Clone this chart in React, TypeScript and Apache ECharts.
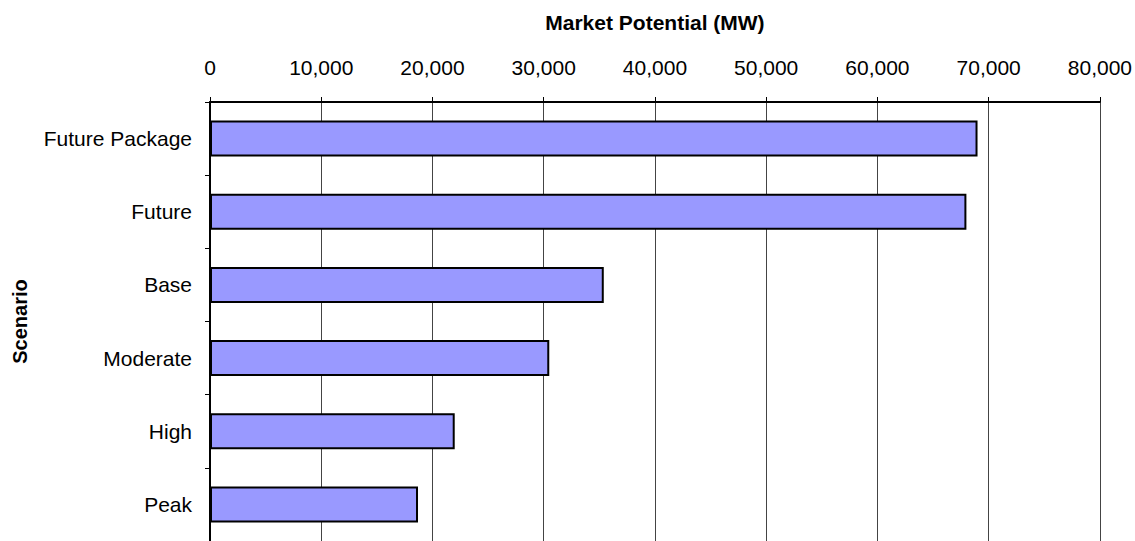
import React, { useEffect, useRef } from "react";
import * as echarts from "echarts";

const categories = ["Future Package", "Future", "Base", "Moderate", "High", "Peak"];
const marketPotential = [69000, 68000, 35400, 30500, 22000, 18700];
const axisMax = 80000;
const axisInterval = 10000;

const FONT = "Arial, 'Liberation Sans', sans-serif";

export default function App() {
  const ref = useRef<HTMLDivElement>(null);
  useEffect(() => {
    if (!ref.current) return;
    const chart = echarts.init(ref.current, undefined, { renderer: "svg" });
    chart.setOption({
      animation: false,
      backgroundColor: "#ffffff",
      grid: { left: 210, right: 35, top: 102, bottom: -4, containLabel: false },
      xAxis: {
        type: "value",
        position: "top",
        min: 0,
        max: axisMax,
        interval: axisInterval,
        name: "Market Potential (MW)",
        nameLocation: "middle",
        nameGap: 69,
        nameTextStyle: { fontFamily: FONT, fontSize: 21, fontWeight: "bold", color: "#000" },
        axisLine: { show: true, lineStyle: { color: "#000", width: 2 } },
        axisTick: { show: true, inside: false, length: 5, lineStyle: { color: "#000", width: 1 } },
        axisLabel: {
          fontFamily: FONT,
          fontSize: 21,
          color: "#000",
          margin: 24,
          formatter: (v: number) => v.toLocaleString("en-US"),
        },
        splitLine: { show: true, lineStyle: { color: "#444", width: 1 } },
      },
      yAxis: {
        type: "category",
        data: categories,
        inverse: true,
        name: "Scenario",
        nameLocation: "middle",
        nameGap: 180,
        nameTextStyle: { fontFamily: FONT, fontSize: 20, fontWeight: "bold", color: "#000" },
        axisLine: { show: true, lineStyle: { color: "#000", width: 2 } },
        axisTick: { show: true, inside: false, length: 5, alignWithLabel: false, lineStyle: { color: "#000", width: 1 } },
        axisLabel: { fontFamily: FONT, fontSize: 21, color: "#000", margin: 18 },
        splitLine: { show: false },
      },
      series: [
        {
          type: "bar",
          data: marketPotential,
          barWidth: 36,
          itemStyle: { color: "#9999FF", borderColor: "#000", borderWidth: 2 },
        },
      ],
    });
    return () => chart.dispose();
  }, []);
  return (
    <div
      ref={ref}
      style={{ position: "absolute", left: 0, top: 0, width: 1135, height: 541 }}
    />
  );
}
